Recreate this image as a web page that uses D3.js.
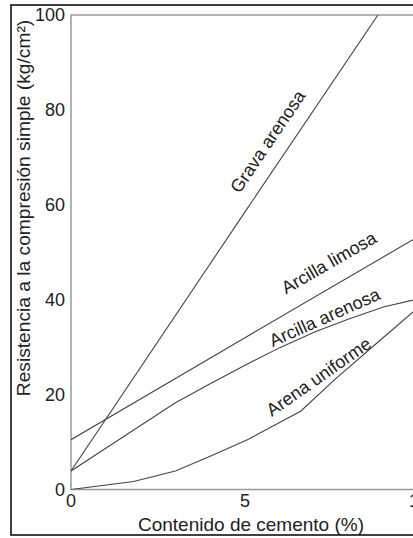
<!DOCTYPE html>
<html>
<head>
<meta charset="utf-8">
<script src="https://cdnjs.cloudflare.com/ajax/libs/d3/7.8.5/d3.min.js"></script>
<style>
  body { margin: 0; background: #fff; }
  text { font-family: "Liberation Sans", Arial, sans-serif; fill: #222; }
</style>
</head>
<body>
<div id="chart"></div>
<script>
// cement content (%) vs unconfined compression strength (kg/cm2)
var xTicks = [0, 5, 10];
var yTicks = [0, 20, 40, 60, 80, 100];

// series
var gravaX = [0, 5, 8.82];
var gravaY = [3.9, 58.5, 100];

var limosaX = [0, 5, 10];
var limosaY = [10.5, 32, 53.4];

var arcArenosaX = [0, 1, 2, 3, 4, 5, 6, 7, 8, 9, 10];
var arcArenosaY = [3.9, 8.7, 13.5, 18.3, 22.3, 26.2, 29.9, 33.2, 36.0, 38.5, 40.2];

var uniformeX = [0, 1.8, 3, 4, 5.1, 6.6, 7.6, 9, 10];
var uniformeY = [0, 1.7, 3.9, 7.0, 10.6, 16.5, 23.3, 32.2, 38.5];

var seriesNames = ["Grava arenosa", "Arcilla limosa", "Arcilla arenosa", "Arena uniforme"];

var svgWidth = 413;
var svgHeight = 538;

// plot box in pixels
var margin = { top: 15, left: 71, bottom: 48.5 };
var plotBottom = svgHeight - margin.bottom;

var svg = d3.select("#chart")
  .append("svg")
  .attr("width", svgWidth)
  .attr("height", svgHeight);

// scales, 10 % falls just outside the picture on the right
var xScale = d3.scaleLinear().domain([0, 10]).range([margin.left, 419]);
var yScale = d3.scaleLinear().domain([0, 100]).range([plotBottom, margin.top]);

// black outer frame (right side is cut off)
svg.append("rect")
  .attr("x", 11)
  .attr("y", 5)
  .attr("width", 420)
  .attr("height", 530)
  .attr("fill", "none")
  .attr("stroke", "#111")
  .attr("stroke-width", 1.6);

// grey plot box
svg.append("rect")
  .attr("x", xScale(0))
  .attr("y", yScale(100))
  .attr("width", 420)
  .attr("height", yScale(0) - yScale(100))
  .attr("fill", "none")
  .attr("stroke", "#999")
  .attr("stroke-width", 1.5);

// tick labels (no tick marks in the original)
svg.append("g")
  .selectAll("text")
  .data(yTicks)
  .enter()
  .append("text")
  .attr("x", 65)
  .attr("y", d => yScale(d))
  .attr("dy", "0.36em")
  .attr("text-anchor", "end")
  .style("font-size", "18px")
  .text(d => d);

svg.append("g")
  .selectAll("text")
  .data(xTicks)
  .enter()
  .append("text")
  .attr("x", d => xScale(d))
  .attr("y", plotBottom + 17)
  .attr("text-anchor", "middle")
  .style("font-size", "18px")
  .text(d => d);

// axis titles
svg.append("text")
  .attr("x", 251)
  .attr("y", 531)
  .attr("text-anchor", "middle")
  .style("font-size", "19px")
  .text("Contenido de cemento (%)");

svg.append("text")
  .attr("transform", "translate(30, 208) rotate(-90)")
  .attr("text-anchor", "middle")
  .style("font-size", "19.2px")
  .text("Resistencia a la compresión simple (kg/cm²)");

// curves
var line = d3.line()
  .x(d => xScale(d[0]))
  .y(d => yScale(d[1]));

var curveData = [
  d3.zip(gravaX, gravaY),
  d3.zip(limosaX, limosaY),
  d3.zip(arcArenosaX, arcArenosaY),
  d3.zip(uniformeX, uniformeY)
];

svg.append("clipPath")
  .attr("id", "plotClip")
  .append("rect")
  .attr("x", xScale(0))
  .attr("y", yScale(100))
  .attr("width", svgWidth - xScale(0))
  .attr("height", yScale(0) - yScale(100));

svg.append("g")
  .attr("clip-path", "url(#plotClip)")
  .selectAll("path")
  .data(curveData)
  .enter()
  .append("path")
  .attr("d", line)
  .attr("fill", "none")
  .attr("stroke", "#444")
  .attr("stroke-width", 1.1);

// curve labels, baseline centre given in data units, angle in degrees
var labelPos = [
  { x: 5.80, y: 72.6, angle: -56 },
  { x: 7.50, y: 46.7, angle: -30 },
  { x: 7.36, y: 35.1, angle: -24 },
  { x: 7.22, y: 22.7, angle: -35 }
];

svg.append("g")
  .selectAll("text")
  .data(seriesNames)
  .enter()
  .append("text")
  .attr("transform", (d, i) => `translate(${xScale(labelPos[i].x)}, ${yScale(labelPos[i].y)}) rotate(${labelPos[i].angle})`)
  .attr("text-anchor", "middle")
  .style("font-size", "18px")
  .text(d => d);
</script>
</body>
</html>
